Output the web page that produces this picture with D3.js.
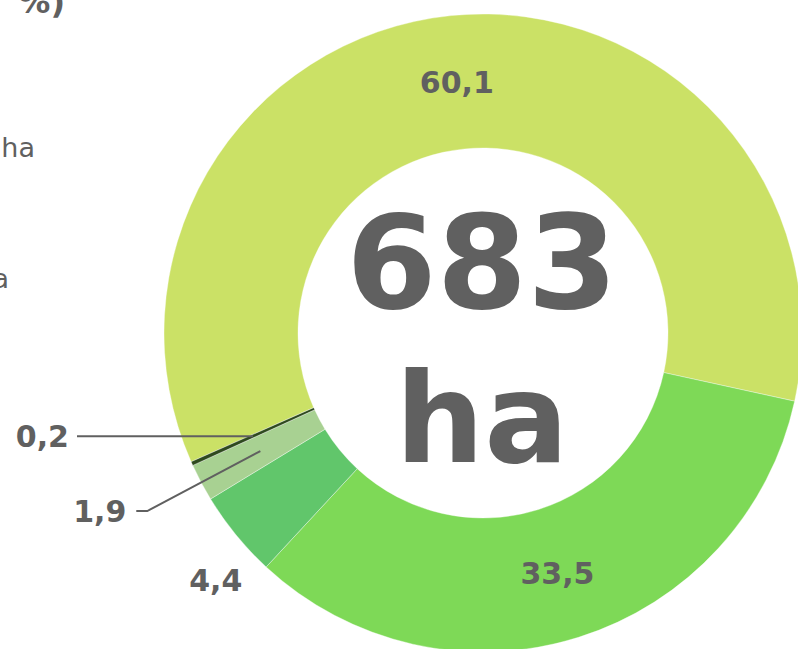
<!DOCTYPE html>
<html>
<head>
<meta charset="utf-8">
<script src="https://cdn.jsdelivr.net/npm/d3@7.9.0/dist/d3.min.js"></script>
<style>
  html, body { margin: 0; padding: 0; background: #fff; }
  svg { display: block; font-family: "DejaVu Sans", Verdana, sans-serif; }
</style>
</head>
<body>
<svg id="chart" width="798" height="649"></svg>
<script>
// shares of the total area, in %
const categories = ['Terres arables', 'Prairies', 'Cultures permanentes', 'Jachères', 'Autres'];
const shares = [60.1, 33.5, 4.4, 1.9, 0.2];
const colors = ['#cbe166', '#7ed957', '#61c66b', '#a8d192', '#2e4a1e'];
const totalLabel = '683';
const unitLabel = 'ha';
// title and legend texts (cut off by the frame on the left)
const titleLines = ['Répartition de la surface (ha,', '%)'];
const legendTexts = ['Terres arables : 410 ha', 'Prairies : 229 ha'];

const svg = d3.select('#chart');
const cx = 483, cy = 333;
const rInner = 185, rOuter = 319;
const textColor = '#606060';

const fmt = v => d3.format('.1f')(v).replace('.', ',');

const pie = d3.pie()
  .value(d => d.value)
  .sort(null)
  .startAngle(-113.8 * Math.PI / 180)
  .endAngle((360 - 113.8) * Math.PI / 180);

const data = categories.map((c, i) => ({ name: c, value: shares[i], color: colors[i] }));
const arcs = pie(data);

const arc = d3.arc().innerRadius(rInner).outerRadius(rOuter);
const mid = d3.arc().innerRadius(252).outerRadius(252);

const g = svg.append('g').attr('transform', `translate(${cx},${cy})`);

g.selectAll('path.slice')
  .data(arcs)
  .join('path')
  .attr('class', 'slice')
  .attr('d', arc)
  .attr('fill', d => d.data.color)
  .attr('stroke', '#ffffff')
  .attr('stroke-width', 0.6)
  .attr('stroke-opacity', 0.6);

// inside labels for the two big slices
g.selectAll('text.inlabel')
  .data(arcs.filter(d => d.data.value > 10))
  .join('text')
  .attr('class', 'inlabel')
  .attr('x', d => mid.centroid(d)[0] - 1)
  .attr('y', d => mid.centroid(d)[1])
  .attr('dy', '0.36em')
  .attr('text-anchor', 'middle')
  .attr('font-size', 30)
  .attr('font-weight', 'bold')
  .attr('fill', textColor)
  .text(d => fmt(d.data.value));

// outside labels
const outside = arcs.filter(d => d.data.value <= 10);
const angleOf = d => (d.startAngle + d.endAngle) / 2;

outside.forEach(d => {
  const a = angleOf(d);
  const [sx, sy] = mid.centroid(d);
  const txt = fmt(d.data.value);
  if (d.data.value > 3) {
    // plain label beyond the ring
    const r = 364, la = a - 3.5 * Math.PI / 180;
    g.append('text')
      .attr('x', Math.sin(la) * r)
      .attr('y', -Math.cos(la) * r)
      .attr('dy', '0.36em')
      .attr('text-anchor', 'middle')
      .attr('font-size', 30)
      .attr('font-weight', 'bold')
      .attr('fill', textColor)
      .text(txt);
  } else if (d.data.value > 1) {
    const r = 380;
    const ex = Math.sin(a) * r, ey = -Math.cos(a) * r;
    g.append('polyline')
      .attr('points', [[sx, sy], [ex, ey], [ex - 11, ey]].map(p => p.join(',')).join(' '))
      .attr('fill', 'none')
      .attr('stroke', textColor)
      .attr('stroke-width', 2);
    g.append('text')
      .attr('x', ex - 21)
      .attr('y', ey)
      .attr('dy', '0.36em')
      .attr('text-anchor', 'end')
      .attr('font-size', 30)
      .attr('font-weight', 'bold')
      .attr('fill', textColor)
      .text(txt);
  } else {
    const ex = -406;
    g.append('line')
      .attr('x1', sx).attr('y1', sy)
      .attr('x2', ex).attr('y2', sy)
      .attr('stroke', textColor)
      .attr('stroke-width', 2);
    g.append('text')
      .attr('x', ex - 8)
      .attr('y', sy)
      .attr('dy', '0.36em')
      .attr('text-anchor', 'end')
      .attr('font-size', 30)
      .attr('font-weight', 'bold')
      .attr('fill', textColor)
      .text(txt);
  }
});

// center total
g.append('text')
  .attr('x', -1)
  .attr('y', 308 - cy)
  .attr('text-anchor', 'middle')
  .attr('font-size', 130)
  .attr('font-weight', 'bold')
  .attr('fill', textColor)
  .text(totalLabel);

g.append('text')
  .attr('x', -1)
  .attr('y', 462 - cy)
  .attr('text-anchor', 'middle')
  .attr('font-size', 125)
  .attr('font-weight', 'bold')
  .attr('fill', textColor)
  .text(unitLabel);

// title and legend, mostly outside the frame
svg.selectAll('text.title')
  .data(titleLines)
  .join('text')
  .attr('class', 'title')
  .attr('x', 65)
  .attr('y', (d, i) => 13 - (titleLines.length - 1 - i) * 40)
  .attr('text-anchor', 'end')
  .attr('font-size', 32)
  .attr('font-weight', 'bold')
  .attr('fill', textColor)
  .text(d => d);

svg.selectAll('text.legend')
  .data(legendTexts)
  .join('text')
  .attr('class', 'legend')
  .attr('x', (d, i) => i === 0 ? 35 : 9)
  .attr('y', (d, i) => i === 0 ? 157 : 288)
  .attr('text-anchor', 'end')
  .attr('font-size', 27)
  .attr('fill', textColor)
  .text(d => d);
</script>
</body>
</html>
